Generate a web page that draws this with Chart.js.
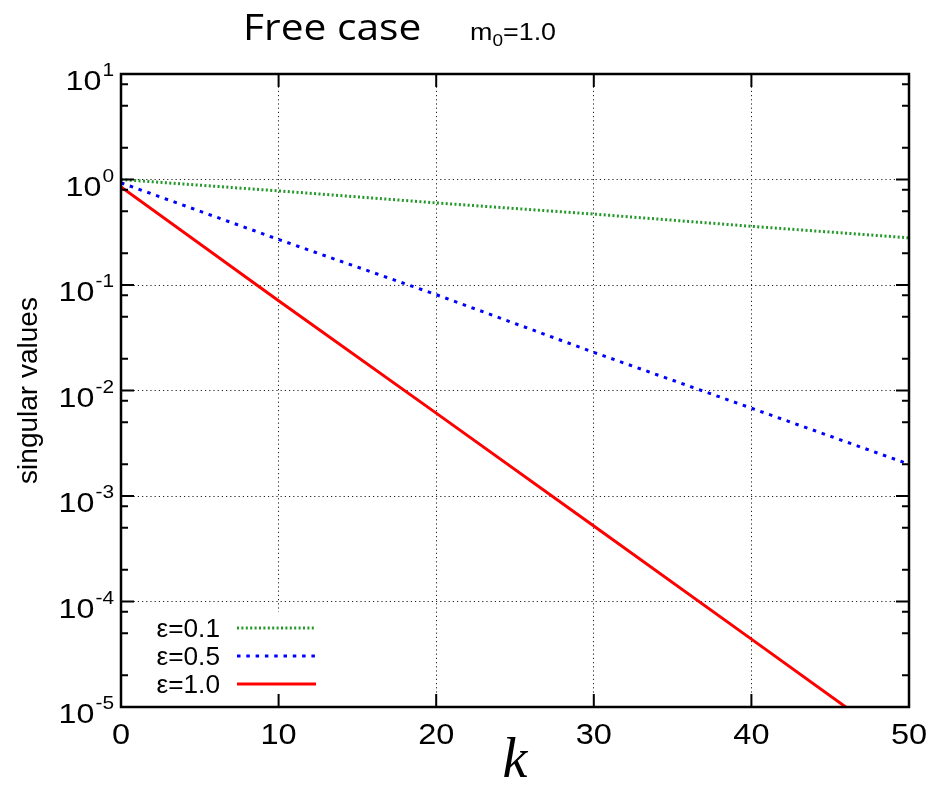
<!DOCTYPE html>
<html>
<head>
<meta charset="utf-8">
<title>Free case</title>
<script src="https://cdn.jsdelivr.net/npm/chart.js@4.4.1/dist/chart.umd.min.js"></script>
<style>
  html, body { margin: 0; padding: 0; background: #fff; }
  #wrap { width: 929px; height: 802px; }
</style>
</head>
<body>
<div id="wrap"><canvas id="svChart" width="929" height="802"></canvas></div>
<script>
// singular values vs k, free case (m0 = 1.0)
var kValues = [0, 10, 20, 30, 40, 50];
var sigmaEps01 = [1.0, 0.78, 0.60, 0.47, 0.36, 0.28];
var sigmaEps05 = [0.93, 0.27, 0.081, 0.023, 0.0068, 0.0020];
var sigmaEps10 = [0.85, 0.071, 0.0061, 0.00052, 0.000044, 0.0000037];
var seriesNames = ['ε=0.1', 'ε=0.5', 'ε=1.0'];
var xTickValues = [0, 10, 20, 30, 40, 50];
var yTickExponents = [-5, -4, -3, -2, -1, 0, 1];
var yMinorMantissas = [2, 5, 8];

function pairs(ys) {
    return kValues.map(function (k, i) { return {x: k, y: ys[i]}; });
}

var colors = ['#23992a', '#0000ff', '#ff0000'];
var dashes = [[2, 2.4], [3.5, 5.8], []];

var sans = '"Liberation Sans", Arial, sans-serif';

// text with a horizontal stretch; align is applied to the stretched width
function wideText(ctx, str, x, y, font, sx, align) {
    ctx.save();
    ctx.font = font;
    var w = ctx.measureText(str).width * sx;
    var x0 = align === 'right' ? x - w : align === 'center' ? x - w / 2 : x;
    ctx.translate(x0, y);
    ctx.scale(sx, 1);
    ctx.textAlign = 'left';
    ctx.fillText(str, 0, 0);
    ctx.restore();
    return w;
}

// box, inward ticks, labels and key, gnuplot style
var framePlugin = {
    id: 'frame',
    afterDatasetsDraw: function (chart) {
        var ctx = chart.ctx;
        var a = chart.chartArea;
        var xs = chart.scales.x, ys = chart.scales.y;
        ctx.save();
        ctx.textBaseline = 'alphabetic';

        // key, opaque
        var keyTop = 612, rowH = 28;
        ctx.fillStyle = '#fff';
        ctx.fillRect(a.left + 2, keyTop, 200, 3 * rowH + 2);
        for (var i = 0; i < seriesNames.length; i++) {
            var yy = keyTop + 16 + i * rowH;
            ctx.fillStyle = '#000';
            wideText(ctx, seriesNames[i], 220, yy + 9, '25px ' + sans, 1.05, 'right');
            ctx.strokeStyle = colors[i];
            ctx.lineWidth = 3;
            ctx.setLineDash(dashes[i]);
            ctx.beginPath();
            ctx.moveTo(237, yy);
            ctx.lineTo(316, yy);
            ctx.stroke();
        }
        ctx.setLineDash([]);

        // ticks pointing inward
        ctx.strokeStyle = '#000';
        ctx.lineWidth = 2;
        ctx.beginPath();
        xTickValues.forEach(function (v) {
            var px = xs.getPixelForValue(v);
            ctx.moveTo(px, a.bottom); ctx.lineTo(px, a.bottom - 13);
            ctx.moveTo(px, a.top); ctx.lineTo(px, a.top + 13);
        });
        yTickExponents.forEach(function (e) {
            var py = ys.getPixelForValue(Math.pow(10, e));
            ctx.moveTo(a.left, py); ctx.lineTo(a.left + 13, py);
            ctx.moveTo(a.right, py); ctx.lineTo(a.right - 13, py);
            if (e < 1) {
                yMinorMantissas.forEach(function (m) {
                    var pm = ys.getPixelForValue(m * Math.pow(10, e));
                    ctx.moveTo(a.left, pm); ctx.lineTo(a.left + 7, pm);
                    ctx.moveTo(a.right, pm); ctx.lineTo(a.right - 7, pm);
                });
            }
        });
        ctx.stroke();

        // border box
        ctx.lineWidth = 2.5;
        ctx.strokeRect(a.left, a.top, a.right - a.left, a.bottom - a.top);

        // x tick labels
        ctx.fillStyle = '#000';
        xTickValues.forEach(function (v) {
            wideText(ctx, String(v), xs.getPixelForValue(v), a.bottom + 37, '29px ' + sans, 1.12, 'center');
        });

        // y tick labels 10^n
        yTickExponents.forEach(function (e) {
            var py = ys.getPixelForValue(Math.pow(10, e));
            var ew = wideText(ctx, String(e), 114, py + 2, '19px ' + sans, 1.1, 'right');
            wideText(ctx, '10', 113 - ew, py + 16, '28px ' + sans, 1.15, 'right');
        });

        // axis titles
        ctx.save();
        ctx.translate(37, (a.top + a.bottom) / 2);
        ctx.rotate(-Math.PI / 2);
        ctx.font = '28px ' + sans;
        ctx.textAlign = 'center';
        ctx.fillText('singular values', 0, 0);
        ctx.restore();

        ctx.font = 'italic 56px "Liberation Serif", "Times New Roman", serif';
        ctx.textAlign = 'center';
        ctx.fillText('k', (a.left + a.right) / 2, 777);

        // title
        ctx.textAlign = 'left';
        wideText(ctx, 'Free case', 243, 40, '37px "Open Sans", sans-serif', 1.1, 'left');
        var mx = 470;
        mx += wideText(ctx, 'm', mx, 40, '24px ' + sans, 1.12, 'left');
        mx += wideText(ctx, '0', mx, 46, '17px ' + sans, 1.12, 'left');
        wideText(ctx, '=1.0', mx, 40, '24px ' + sans, 1.12, 'left');

        ctx.restore();
    }
};

var datasets = [sigmaEps01, sigmaEps05, sigmaEps10].map(function (ys, i) {
    return {
        label: seriesNames[i],
        data: pairs(ys),
        borderColor: colors[i],
        borderWidth: 3,
        borderDash: dashes[i],
        pointRadius: 0,
        tension: 0,
        fill: false,
        clip: 0
    };
});

new Chart(document.getElementById('svChart'), {
    type: 'line',
    data: {datasets: datasets},
    options: {
        responsive: false,
        animation: false,
        layout: {padding: {left: 121, top: 74, right: 20, bottom: 95}},
        plugins: {legend: {display: false}, tooltip: {enabled: false}},
        scales: {
            x: {
                type: 'linear', min: 0, max: 50,
                afterBuildTicks: function (s) {
                    s.ticks = xTickValues.map(function (v) { return {value: v}; });
                },
                ticks: {display: false},
                grid: {color: '#222', lineWidth: 1, drawTicks: false},
                border: {display: false, dash: [1.2, 3]}
            },
            y: {
                type: 'logarithmic', min: 1e-5, max: 10,
                afterBuildTicks: function (s) {
                    s.ticks = yTickExponents.map(function (e) { return {value: Math.pow(10, e)}; });
                },
                ticks: {display: false},
                grid: {color: '#222', lineWidth: 1, drawTicks: false},
                border: {display: false, dash: [1.2, 3]}
            }
        }
    },
    plugins: [framePlugin]
});
</script>
</body>
</html>
